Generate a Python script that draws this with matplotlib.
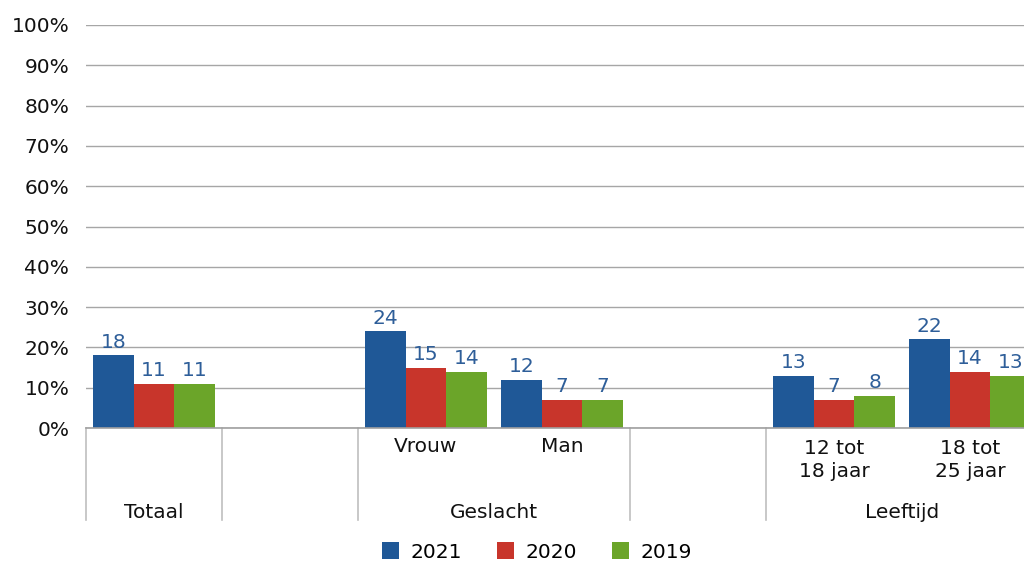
import numpy as np
import matplotlib
matplotlib.use('Agg')
import matplotlib.pyplot as plt
from matplotlib.ticker import PercentFormatter

# Data (empty slots keep the gaps between groups)
categories = ['Totaal', '', 'Vrouw', 'Man', '', '12 tot\n18 jaar', '18 tot\n25 jaar']
groups = [('Totaal', 0, 0), ('Geslacht', 2, 3), ('Leeftijd', 5, 6)]
years = ['2021', '2020', '2019']
v2021 = [18, None, 24, 12, None, 13, 22]
v2020 = [11, None, 15, 7, None, 7, 14]
v2019 = [11, None, 14, 7, None, 8, 13]
colors = ['#1f5897', '#c8352b', '#6ba529']

plt.rcParams['font.family'] = ['DejaVu Sans']
fs = 14.5

fig = plt.figure(figsize=(10.24, 5.62), dpi=100)
W, H = 1024, 562
ax = fig.add_axes([86 / W, (H - 428) / H, (1038 - 86) / W, 403 / H])

bw = 0.3
handles = []
for j, (vals, col, yr) in enumerate(zip([v2021, v2020, v2019], colors, years)):
    xs = [i + 0.05 + bw / 2 + j * bw for i, v in enumerate(vals) if v is not None]
    ys = [v for v in vals if v is not None]
    b = ax.bar(xs, ys, width=bw, color=col, label=yr, zorder=3)
    handles.append(b)
    for x, y in zip(xs, ys):
        ax.annotate(str(y), (x, y), xytext=(0, 2.5), textcoords='offset points',
                    ha='center', va='bottom', color='#2e5e99', fontsize=fs)

ax.set_xlim(0, 7)
ax.set_ylim(0, 100)
ax.set_yticks(np.arange(0, 101, 10))
ax.yaxis.set_major_formatter(PercentFormatter(decimals=0))
ax.tick_params(axis='y', length=0, pad=12, labelsize=fs, labelcolor='#111111')
ax.set_xticks([])
ax.grid(axis='y', color='#a6a6a6', linewidth=1, zorder=0)
for s in ['top', 'right', 'left']:
    ax.spines[s].set_visible(False)
ax.spines['bottom'].set_color('#a0a0a0')
ax.spines['bottom'].set_linewidth(1.2)
ax.spines['bottom'].set_zorder(4)

# multi-level category axis
trans = ax.get_xaxis_transform()
low = (428 - 520) / 403
for xsep in [0, 1, 2, 4, 5]:
    ax.plot([xsep, xsep], [0, low], transform=trans, color='#bfbfbf',
            linewidth=1.2, clip_on=False)
for i, c in enumerate(categories):
    if c and c != 'Totaal':
        yc = -19 / 403 if '\n' not in c else -32 / 403
        ax.text(i + 0.5, yc, c, transform=trans, ha='center', va='center',
                fontsize=fs, linespacing=1.3, color='#111111')
for name, a, b in groups:
    ax.text((a + b + 1) / 2, -84 / 403, name, transform=trans, ha='center',
            va='center', fontsize=fs, color='#111111')

fig.legend(handles=handles, labels=years, loc='center', ncol=3,
           bbox_to_anchor=(537 / W, 1 - 552 / H), frameon=False, fontsize=fs,
           handlelength=0.85, handleheight=0.85, handletextpad=0.6,
           columnspacing=1.7)

fig.savefig('out.png', dpi=100)
